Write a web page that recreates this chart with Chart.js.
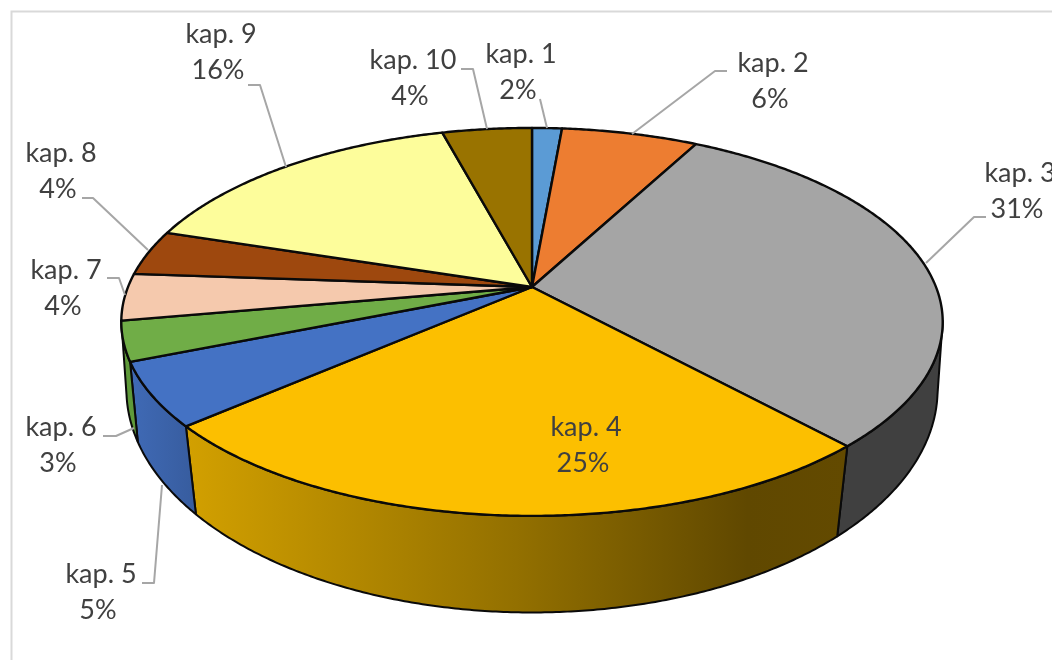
<!DOCTYPE html>
<html>
<head>
<meta charset="utf-8">
<title>kap.</title>
<script src="https://cdn.jsdelivr.net/npm/chart.js@4"></script>
<style>
  html, body { margin: 0; padding: 0; background: #fff; overflow: hidden; }
  canvas { display: block; }
</style>
</head>
<body>
<canvas id="myChart" width="1052" height="660"></canvas>
<script>
// DATA
var categories = ['kap. 1', 'kap. 2', 'kap. 3', 'kap. 4', 'kap. 5', 'kap. 6', 'kap. 7', 'kap. 8', 'kap. 9', 'kap. 10'];
var sliceValues = [1.4, 6.4, 30.4, 25.5, 5.3, 3.3, 3.9, 3.8, 15.9, 4.2];
var percentLabels = ['2%', '6%', '31%', '25%', '5%', '3%', '4%', '4%', '16%', '4%'];
var sliceColors = ['#5b9bd5', '#ed7d31', '#a5a5a5', '#fcbf00', '#4472c4', '#70ad47', '#f5c9ad', '#9e480e', '#fdfd9b', '#997300'];

// LAYOUT
// x, baseline of the first text line
var labelPos = [[518, 63], [770, 72], [1017, 182], [583, 436], [98, 583], [58, 436], [63, 279], [58, 162], [218, 43], [410, 69]];
var leaders = [
    [[540, 99], [547, 128]],
    [[727, 71], [715, 71], [632, 134]],
    [[986, 217], [974, 217], [926, 263]],
    null,
    [[142, 583], [154, 583], [162, 485]],
    [[103, 436], [116, 436], [134, 428]],
    [[107, 278], [119, 278], [125, 295]],
    [[82, 198], [93, 198], [148, 250]],
    [[248, 85], [260, 85], [286, 167]],
    [[461, 69], [473, 69], [487, 129]]
];

// perspective of the two discs: k tilts the circle, R and r are the radii
var topDisc = { cx: 532, cy: 287, R: 404, r: 187.7, k: -0.18 };
var bottomDisc = { cx: 532, cy: 356, R: 401, r: 218, k: -0.15 };
var wallFrom = 100 * Math.PI / 180;
var wallTo = 260 * Math.PI / 180;

function project(disc, a) {
    var X = Math.sin(a), Y = -Math.cos(a);
    var w = 1 + disc.k * Y;
    return [disc.cx + disc.R * X / w, disc.cy + disc.r * Y / w];
}

function rimPoints(disc, a0, a1) {
    var pts = [];
    var n = Math.max(2, Math.ceil((a1 - a0) / 0.008));
    for (var i = 0; i <= n; i++) {
        pts.push(project(disc, a0 + (a1 - a0) * i / n));
    }
    return pts;
}

function tracePath(ctx, pts) {
    ctx.beginPath();
    ctx.moveTo(pts[0][0], pts[0][1]);
    for (var i = 1; i < pts.length; i++) ctx.lineTo(pts[i][0], pts[i][1]);
}

function wallFill(ctx, i) {
    if (i == 3) {
        var g = ctx.createLinearGradient(187, 0, 846, 0);
        g.addColorStop(0, '#d2a000');
        g.addColorStop(0.5, '#937000');
        g.addColorStop(0.85, '#604800');
        g.addColorStop(1, '#634a00');
        return g;
    }
    if (i == 4) {
        var g2 = ctx.createLinearGradient(135, 0, 196, 0);
        g2.addColorStop(0, '#3f69b4');
        g2.addColorStop(1, '#375c9e');
        return g2;
    }
    if (i == 2) return '#404040';
    return '#5f9a3a';
}

var pie3d = {
    id: 'pie3d',
    beforeDraw: function (chart) {
        var ctx = chart.ctx;
        ctx.save();
        ctx.fillStyle = '#fff';
        ctx.fillRect(0, 0, chart.width, chart.height);
        ctx.strokeStyle = '#d9d9d9';
        ctx.lineWidth = 2;
        ctx.strokeRect(11.5, 11.5, 1100, 700);
        ctx.restore();
    },
    beforeDatasetDraw: function (chart) {
        var ctx = chart.ctx;
        var arcs = chart.getDatasetMeta(0).data;
        ctx.save();
        ctx.lineJoin = 'round';
        ctx.strokeStyle = '#0a0a0a';

        // side walls first, the top face covers whatever is behind it
        arcs.forEach(function (arc, i) {
            var a0 = Math.max(arc.startAngle + Math.PI / 2, wallFrom);
            var a1 = Math.min(arc.endAngle + Math.PI / 2, wallTo);
            if (a1 <= a0) return;
            var pts = rimPoints(topDisc, a0, a1).concat(rimPoints(bottomDisc, a0, a1).reverse());
            tracePath(ctx, pts);
            ctx.closePath();
            ctx.fillStyle = wallFill(ctx, i);
            ctx.fill();
            ctx.lineWidth = 2;
            ctx.stroke();
        });

        arcs.forEach(function (arc) {
            var a0 = arc.startAngle + Math.PI / 2;
            var a1 = arc.endAngle + Math.PI / 2;
            var pts = [[topDisc.cx, topDisc.cy]].concat(rimPoints(topDisc, a0, a1));
            tracePath(ctx, pts);
            ctx.closePath();
            ctx.fillStyle = arc.options.backgroundColor;
            ctx.fill();
            ctx.lineWidth = 2.4;
            ctx.stroke();
        });
        ctx.restore();
        return false;
    },
    afterDatasetsDraw: function (chart) {
        var ctx = chart.ctx;
        ctx.save();
        ctx.strokeStyle = '#a6a6a6';
        ctx.lineWidth = 2;
        ctx.lineJoin = 'round';
        leaders.forEach(function (pts) {
            if (!pts) return;
            tracePath(ctx, pts);
            ctx.stroke();
        });
        ctx.fillStyle = '#404040';
        ctx.font = '27px Lato';
        ctx.textAlign = 'center';
        ctx.textBaseline = 'alphabetic';
        categories.forEach(function (name, i) {
            ctx.fillText(name, labelPos[i][0] + 3, labelPos[i][1]);
            ctx.fillText(percentLabels[i], labelPos[i][0], labelPos[i][1] + 36);
        });
        ctx.restore();
    }
};

var ctx = document.getElementById('myChart').getContext('2d');
var chart = new Chart(ctx, {
    type: 'pie',
    data: {
        labels: categories,
        datasets: [{
            data: sliceValues,
            backgroundColor: sliceColors
        }]
    },
    options: {
        responsive: false,
        animation: false,
        devicePixelRatio: 1,
        plugins: {
            legend: { display: false },
            tooltip: { enabled: false }
        }
    },
    plugins: [pie3d]
});
</script>
</body>
</html>
